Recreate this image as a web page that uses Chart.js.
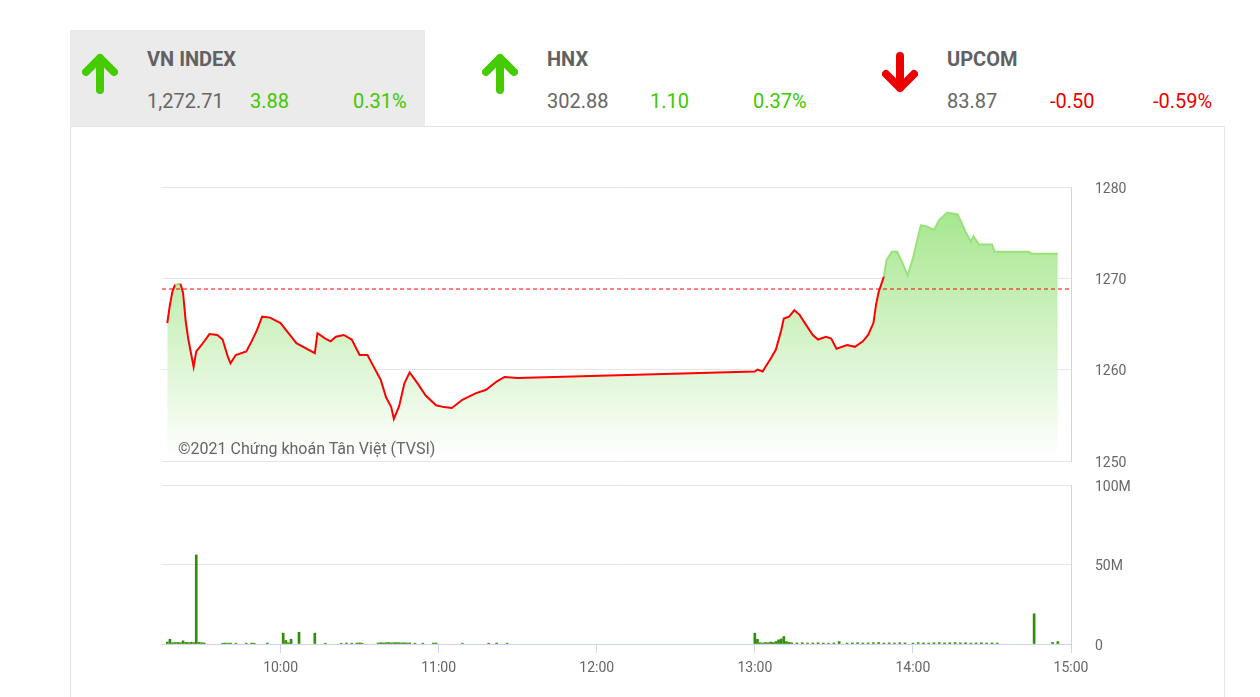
<!DOCTYPE html>
<html lang="vi">
<head>
<meta charset="UTF-8" />
<title>VN INDEX</title>
<script src="https://cdn.jsdelivr.net/npm/chart.js"></script>
<style>
  body { margin: 0; background: #fff; font-family: Roboto, "Noto Sans", sans-serif; }
  .abs { position: absolute; }
  .panel { position: absolute; top: 30px; width: 355px; height: 96px; }
  .panel.active { background: #ebebeb; }
  .panel svg { position: absolute; left: 12px; top: 22px; }
  .name { position: absolute; left: 77px; top: 17px; font-size: 20px; font-weight: bold; color: #616161; }
  .val { position: absolute; top: 59px; font-size: 20px; color: #666; }
  .up { color: #40c800; }
  .down { color: #ee0000; }
  .box { position: absolute; left: 70px; top: 126px; width: 1153px; height: 600px; border: 1px solid #e6e6e6; }
  .credit { position: absolute; left: 178px; top: 439px; font-size: 16px; color: #666; }
</style>
</head>
<body>
<div class="box"></div>
<div id="panels"></div>

<canvas id="priceChart" class="abs" width="1066" height="302" style="left:158px;top:173px;width:1066px;height:302px"></canvas>
<canvas id="volChart" class="abs" width="1066" height="226" style="left:158px;top:471px;width:1066px;height:226px"></canvas>
<div class="credit">©2021 Chứng khoán Tân Việt (TVSI)</div>

<script>
  // header indices
  const indexNames = ["VN INDEX", "HNX", "UPCOM"];
  const indexValues = ["1,272.71", "302.88", "83.87"];
  const indexChanges = ["3.88", "1.10", "-0.50"];
  const indexPercents = ["0.31%", "0.37%", "-0.59%"];

  // VN INDEX intraday
  const refPrice = 1268.83;
  const priceTimes = [
    "9:17", "9:18", "9:19", "9:20", "9:22", "9:23", "9:24", "9:25", "9:27", "9:28",
    "9:30", "9:33", "9:36", "9:38", "9:40", "9:41", "9:43", "9:47", "9:49", "9:51",
    "9:53", "9:56", "10:00", "10:03", "10:06", "10:13", "10:14", "10:17", "10:19", "10:21",
    "10:24", "10:27", "10:30", "10:33", "10:35", "10:38", "10:40", "10:42", "10:43", "10:45",
    "10:47", "10:49", "10:52", "10:55", "10:59", "11:02", "11:05", "11:09", "11:14", "11:18",
    "11:22", "11:25", "11:30", "13:00", "13:01", "13:03", "13:04", "13:06", "13:08", "13:10",
    "13:11", "13:13", "13:15", "13:17", "13:19", "13:22", "13:24", "13:27", "13:29", "13:31",
    "13:35", "13:38", "13:41", "13:43", "13:45", "13:46", "13:47", "13:49", "13:50", "13:52",
    "13:54", "13:56", "13:58", "14:00", "14:03", "14:05", "14:08", "14:10", "14:13", "14:17",
    "14:20", "14:22", "14:23", "14:25", "14:30", "14:31", "14:44", "14:45", "14:55"
  ];
  const priceValues = [
    1265.1, 1267.1, 1268.6, 1269.3, 1269.4, 1268.4, 1265.3, 1263.3, 1260.3, 1262.0,
    1262.7, 1263.9, 1263.8, 1263.3, 1261.4, 1260.7, 1261.6, 1262.0, 1263.1, 1264.3,
    1265.8, 1265.7, 1265.1, 1264.0, 1262.9, 1261.8, 1264.0, 1263.4, 1263.1, 1263.6,
    1263.8, 1263.3, 1261.6, 1261.6, 1260.5, 1258.9, 1257.0, 1255.9, 1254.6, 1256.0,
    1258.5, 1259.7, 1258.5, 1257.2, 1256.1, 1255.9, 1255.8, 1256.7, 1257.4, 1257.8,
    1258.7, 1259.2, 1259.1, 1259.8, 1260.0, 1259.8, 1260.3, 1261.2, 1262.2, 1264.3,
    1265.6, 1265.8, 1266.5, 1266.0, 1265.1, 1263.8, 1263.3, 1263.6, 1263.4, 1262.3,
    1262.7, 1262.5, 1263.1, 1263.8, 1265.1, 1267.1, 1268.5, 1270.2, 1272.0, 1272.9,
    1272.9, 1271.7, 1270.3, 1272.2, 1275.8, 1275.7, 1275.3, 1276.4, 1277.2, 1277.0,
    1275.1, 1274.0, 1274.6, 1273.7, 1273.7, 1272.9, 1272.9, 1272.7, 1272.7
  ];

  // volume (millions)
  const volTimes = [
    "9:17", "9:18", "9:19", "9:20", "9:21", "9:22", "9:23", "9:24", "9:25", "9:26",
    "9:27", "9:28", "9:29", "9:30", "9:31", "9:38", "9:39", "9:40", "9:41", "9:43",
    "9:47", "9:49", "9:50", "9:55", "10:01", "10:02", "10:03", "10:04", "10:07", "10:13",
    "10:17", "10:23", "10:25", "10:27", "10:29", "10:30", "10:31", "10:37", "10:38", "10:39",
    "10:40", "10:41", "10:42", "10:43", "10:44", "10:45", "10:46", "10:47", "10:48", "10:49",
    "10:51", "10:54", "10:58", "10:59", "11:09", "11:19", "11:22", "11:26",
    "13:00", "13:01", "13:02", "13:03", "13:04", "13:05", "13:06", "13:07", "13:08", "13:09",
    "13:10", "13:11", "13:12", "13:13", "13:14", "13:16", "13:18", "13:20", "13:22", "13:24",
    "13:26", "13:28", "13:30", "13:32", "13:35", "13:37", "13:39", "13:41", "13:43", "13:45",
    "13:47", "13:49", "13:51", "13:53", "13:55", "13:57", "14:00", "14:02", "14:04", "14:06",
    "14:08", "14:10", "14:12", "14:14", "14:16", "14:18", "14:20", "14:22", "14:24", "14:26",
    "14:28", "14:30", "14:32", "14:46", "14:53", "14:55"
  ];
  const volValues = [
    1.2, 3.0, 0.8, 0.9, 1.0, 0.8, 2.0, 1.0, 0.9, 1.1,
    0.9, 56, 1.0, 0.8, 0.7, 0.5, 0.6, 0.5, 0.6, 0.5,
    0.5, 0.6, 0.5, 0.6, 6.8, 2.2, 0.8, 3.0, 7.4, 6.8,
    0.5, 0.5, 0.6, 0.5, 0.6, 0.7, 0.5, 0.6, 0.8, 0.7,
    0.8, 0.9, 0.7, 0.8, 0.9, 0.8, 0.7, 0.8, 0.6, 0.7,
    0.5, 0.5, 0.6, 0.6, 0.5, 0.5, 0.6, 0.5,
    6.8, 3.0, 0.8, 0.6, 0.9, 0.8, 1.2, 0.9, 1.5, 2.6,
    3.2, 4.7, 1.5, 1.0, 0.8, 0.7, 0.8, 0.6, 0.7, 0.8,
    0.6, 0.5, 0.7, 1.5, 0.6, 0.7, 0.8, 0.6, 0.7, 0.8,
    0.9, 0.6, 0.7, 0.6, 0.8, 0.7, 0.6, 0.8, 0.7, 0.6,
    0.8, 0.9, 0.7, 0.8, 0.9, 0.7, 0.8, 0.6, 0.7, 0.8,
    0.6, 0.7, 0.6, 19, 1.0, 1.5
  ];

  const hourTicks = ["10:00", "11:00", "12:00", "13:00", "14:00", "15:00"];
  const xMin = "9:15";
  const xMax = "15:00";

  function toMin(s) {
    const p = s.split(":");
    return +p[0] * 60 + +p[1];
  }
  function fmtMin(v) {
    const h = Math.floor(v / 60), m = Math.round(v % 60);
    return h + ":" + (m < 10 ? "0" : "") + m;
  }

  // header panels
  const upArrow = '<svg width="36" height="42" viewBox="0 0 36 42"><path d="M18 38 V6 M4 20 L18 6 L32 20" fill="none" stroke="#44cc00" stroke-width="8" stroke-linecap="round" stroke-linejoin="round"/></svg>';
  const downArrow = '<svg width="36" height="42" viewBox="0 0 36 42"><path d="M18 4 V36 M4 22 L18 36 L32 22" fill="none" stroke="#ee0000" stroke-width="8" stroke-linecap="round" stroke-linejoin="round"/></svg>';
  let html = "";
  indexNames.forEach((n, i) => {
    const isUp = indexChanges[i].charAt(0) !== "-";
    const cls = isUp ? "up" : "down";
    html += `<div class="panel ${i === 0 ? "active" : ""}" style="left:${70 + i * 400}px">
      ${isUp ? upArrow : downArrow}
      <div class="name">${n}</div>
      <div class="val" style="left:77px">${indexValues[i]}</div>
      <div class="val ${cls}" style="left:180px">${indexChanges[i]}</div>
      <div class="val ${cls}" style="left:283px">${indexPercents[i]}</div>
    </div>`;
  });
  document.getElementById("panels").innerHTML = html;

  const labelFont = { family: "Roboto", size: 14 };
  const fixRight = (s) => { s.width = 153; };
  const rightGrid = { color: "#e6e6e6", tickColor: "rgba(0,0,0,0)", tickLength: 21 };
  const pricePoints = priceTimes.map((t, i) => ({ x: toMin(t), y: priceValues[i] }));

  new Chart(document.getElementById("priceChart"), {
    type: "line",
    data: {
      datasets: [
        {
          // reference (previous close)
          data: [{ x: toMin(xMin), y: refPrice }, { x: toMin(xMax), y: refPrice }],
          borderColor: "#ff0000",
          borderWidth: 1,
          borderDash: [4, 3],
          pointRadius: 0,
          fill: false,
          order: 0,
        },
        {
          data: pricePoints,
          borderWidth: 2,
          borderColor: "#ff0000",
          segment: {
            borderColor: (c) =>
              c.p0.parsed.y > refPrice && c.p1.parsed.y > refPrice ? "#98e27a" : "#ff0000",
          },
          pointRadius: 0,
          tension: 0,
          fill: false,
          order: 1,
        },
        {
          // area under the line
          data: pricePoints,
          borderWidth: 0,
          pointRadius: 0,
          tension: 0,
          fill: "start",
          backgroundColor: (c) => {
            const area = c.chart.chartArea;
            if (!area) return "rgba(160,230,130,0.5)";
            const g = c.chart.ctx.createLinearGradient(0, area.top, 0, area.bottom);
            g.addColorStop(0, "#9de482");
            g.addColorStop(1, "rgba(255,255,255,0.95)");
            return g;
          },
          order: 2,
        },
      ],
    },
    options: {
      responsive: false,
      animation: false,
      layout: { padding: { top: 14, bottom: 14, left: 4 } },
      plugins: { legend: { display: false }, tooltip: { enabled: false } },
      scales: {
        x: { type: "linear", display: false, min: toMin(xMin), max: toMin(xMax) },
        y: {
          position: "right",
          min: 1250,
          max: 1280,
          afterFit: fixRight,
          ticks: { stepSize: 10, color: "#666", font: labelFont, padding: 3, labelOffset: 2, callback: (v) => String(v) },
          grid: rightGrid,
          border: { color: "#ccd6eb" },
        },
      },
    },
  });

  new Chart(document.getElementById("volChart"), {
    type: "bar",
    data: {
      datasets: [
        {
          data: volTimes.map((t, i) => ({ x: toMin(t), y: volValues[i] })),
          backgroundColor: "#2f8d0a",
          barThickness: 2,
        },
      ],
    },
    options: {
      responsive: false,
      animation: false,
      layout: { padding: { top: 14, left: 4 } },
      plugins: { legend: { display: false }, tooltip: { enabled: false } },
      scales: {
        x: {
          type: "linear",
          offset: false,
          min: toMin(xMin),
          max: toMin(xMax),
          afterBuildTicks: (s) => { s.ticks = hourTicks.map((t) => ({ value: toMin(t) })); },
          afterFit: (s) => { s.height = 53; },
          ticks: { autoSkip: false, maxRotation: 0, color: "#666", font: labelFont, padding: 7, callback: (v) => fmtMin(v) },
          grid: { drawOnChartArea: false, color: "#ccd6eb", tickLength: 9, offset: false },
          border: { color: "#ccd6eb" },
        },
        y: {
          position: "right",
          min: 0,
          max: 100,
          afterFit: fixRight,
          ticks: { stepSize: 50, color: "#666", font: labelFont, padding: 3, labelOffset: 2, callback: (v) => (v === 0 ? "0" : v + "M") },
          grid: rightGrid,
          border: { color: "#ccd6eb" },
        },
      },
    },
  });
</script>
</body>
</html>
